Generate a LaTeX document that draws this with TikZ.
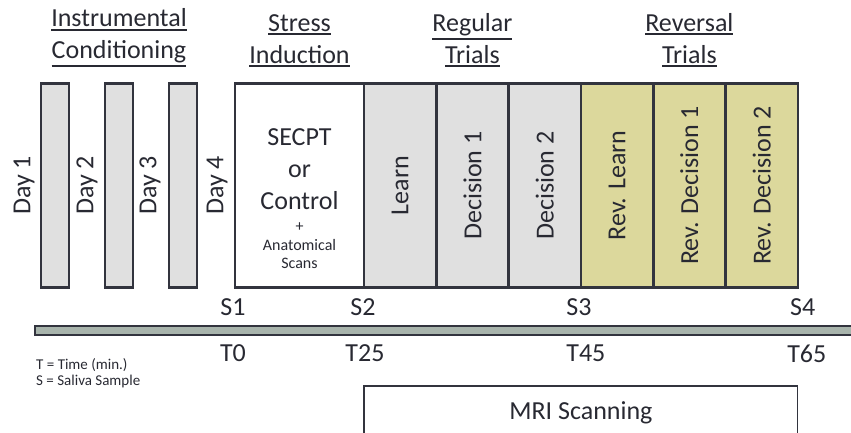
\documentclass[tikz,border=0pt]{standalone}
\usepackage{fontspec}
\setmainfont{Carlito}
\usepackage{tikz}
\usetikzlibrary{positioning}

\definecolor{edge}{RGB}{50,52,62}
\definecolor{ink}{RGB}{40,41,50}
\definecolor{panel}{RGB}{224,224,224}
\definecolor{revfill}{RGB}{220,216,156}
\definecolor{barfill}{RGB}{168,180,172}

\newcommand{\stagefont}{\fontsize{26}{31}\selectfont}
\newcommand{\headfont}{\fontsize{26}{32}\selectfont}
\newcommand{\notefont}{\fontsize{16}{18.5}\selectfont}
\newcommand{\keyfont}{\fontsize{15}{16}\selectfont}
% thick underline for the phase headings
\newcommand{\headline}[1]{\vtop{\hbox{#1}\kern2.2pt\hrule height 1.8pt}}

\begin{document}
\begin{tikzpicture}[
  x=1pt, y=1pt,
  node distance=36pt,
  frame/.style={draw=edge, line width=2.6pt, outer sep=0pt, inner sep=0pt, minimum height=204pt},
  daybox/.style={frame, fill=panel, minimum width=28pt},
  stagebox/.style={frame, fill=panel, minimum width=72.3pt},
  revbox/.style={stagebox, fill=revfill},
  vlabel/.style={rotate=90, text=ink, font=\stagefont, inner sep=0pt},
  header/.style={align=center, text=ink, font=\headfont, inner sep=0pt},
  pointlbl/.style={text=ink, font=\stagefont, inner sep=0pt},
  bar/.style={draw=edge, line width=1.2pt, fill=barfill, inner sep=0pt,
              minimum width=818pt, minimum height=9pt},
  mribox/.style={draw=edge, line width=1.3pt, text=ink, font=\stagefont,
                 minimum height=54pt, inner sep=0pt}
]
\useasboundingbox (0,0) rectangle (851,433);

% days of instrumental conditioning
\node[daybox] (day1) at (55,247.5) {};
\node[daybox, right=of day1] (day2) {};
\node[daybox, right=of day2] (day3) {};

% day 4 in the scanner
\node[frame, minimum width=129pt, right=38pt of day3] (secpt) {};
\node[stagebox, right=0pt of secpt] (learn) {};
\node[stagebox, right=0pt of learn] (dec1)  {};
\node[stagebox, right=0pt of dec1]  (dec2)  {};
\node[revbox, right=0pt of dec2]    (revlearn) {};
\node[revbox, right=0pt of revlearn] (revdec1) {};
\node[revbox, right=0pt of revdec1]  (revdec2) {};

\node[vlabel] (day1lbl) at ([xshift=-31pt]day1.center) {Day 1};
\node[vlabel] (day2lbl) at ([xshift=-32pt]day2.center) {Day 2};
\node[vlabel] (day3lbl) at ([xshift=-33pt]day3.center) {Day 3};
\node[vlabel] (day4lbl) at ([xshift=-18pt]secpt.west) {Day 4};

\node[header] (secpttxt) at ([yshift=16.5pt]secpt.center) {SECPT\\or\\Control};
\node[header, font=\notefont] (scantxt) at ([yshift=-60.5pt]secpt.center) {+\\Anatomical\\Scans};
\node[vlabel] (learnlbl)    at (learn)    {Learn};
\node[vlabel] (dec1lbl)     at (dec1)     {Decision 1};
\node[vlabel] (dec2lbl)     at (dec2)     {Decision 2};
\node[vlabel] (revlearnlbl) at (revlearn) {Rev. Learn};
\node[vlabel] (revdec1lbl)  at (revdec1)  {Rev. Decision 1};
\node[vlabel] (revdec2lbl)  at (revdec2)  {Rev. Decision 2};

% phase headings
\node[header, above=16pt of day2]  (condhead)  {\headline{Instrumental}\\\headline{Conditioning}};
\node[header, above=16pt of secpt] (stresshead) {\headline{Stress}\\\headline{Induction}};
\node[header, above=16pt of dec1]  (reghead)   {\headline{Regular}\\\headline{Trials}};
\node[header, above=16pt of revdec1] (revhead) {\headline{Reversal}\\\headline{Trials}};

% saliva samples and time line
\node[pointlbl] (s1) at ([xshift=-2pt, yshift=-20pt]secpt.south west) {S1};
\node[pointlbl] (s2) at ([xshift=-1pt, yshift=-20pt]learn.south west) {S2};
\node[pointlbl] (s3) at ([xshift=-2pt, yshift=-20pt]revlearn.south west) {S3};
\node[pointlbl] (s4) at ([xshift=5pt, yshift=-20pt]revdec2.south east) {S4};

\node[bar] (timeline) at (444,102.5) {};

\node[pointlbl] (t0)  at ([yshift=-46pt]s1.center) {T0};
\node[pointlbl] (t25) at ([xshift=2pt, yshift=-46pt]s2.center) {T25};
\node[pointlbl] (t45) at ([xshift=7pt, yshift=-46pt]s3.center) {T45};
\node[pointlbl] (t65) at ([xshift=4pt, yshift=-46pt]s4.center) {T65};

\node[text=ink, font=\keyfont, align=left, anchor=west, inner sep=0pt] (legend) at (36,60)
  {T = Time (min.)\\S = Saliva Sample};

% scanner period, cut off at the bottom
\coordinate (mrimid) at (0,20);
\node[mribox, minimum width=433.8pt] (mri) at (dec2.east |- mrimid) {MRI Scanning};

\end{tikzpicture}
\end{document}
